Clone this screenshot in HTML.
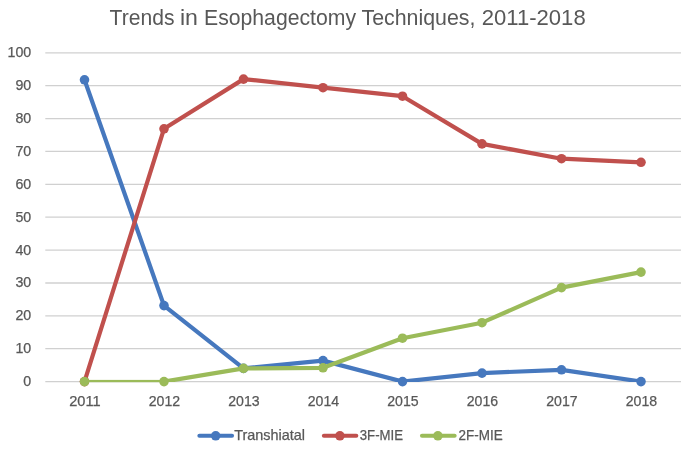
<!DOCTYPE html>
<html><head><meta charset="utf-8"><title>Trends in Esophagectomy Techniques</title>
<style>
html,body{margin:0;padding:0;background:#fff;}
body{width:685px;height:451px;overflow:hidden;font-family:"Liberation Sans",sans-serif;}
svg{display:block;opacity:0.999;will-change:transform;}
text{font-family:"Liberation Sans",sans-serif;fill:#585858;}
.sm{stroke:#585858;stroke-width:0.25px;}
</style></head><body>
<svg width="685" height="451" viewBox="0 0 685 451">
<rect width="685" height="451" fill="#ffffff"/>
<defs><clipPath id="plot"><rect x="0" y="0" width="685" height="382.0"/></clipPath></defs>
<line x1="45.3" x2="681.0" y1="381.6" y2="381.6" stroke="#D0D0D0" stroke-width="1.3"/>
<line x1="45.3" x2="681.0" y1="348.7" y2="348.7" stroke="#D0D0D0" stroke-width="1.3"/>
<line x1="45.3" x2="681.0" y1="315.8" y2="315.8" stroke="#D0D0D0" stroke-width="1.3"/>
<line x1="45.3" x2="681.0" y1="283.0" y2="283.0" stroke="#D0D0D0" stroke-width="1.3"/>
<line x1="45.3" x2="681.0" y1="250.1" y2="250.1" stroke="#D0D0D0" stroke-width="1.3"/>
<line x1="45.3" x2="681.0" y1="217.2" y2="217.2" stroke="#D0D0D0" stroke-width="1.3"/>
<line x1="45.3" x2="681.0" y1="184.3" y2="184.3" stroke="#D0D0D0" stroke-width="1.3"/>
<line x1="45.3" x2="681.0" y1="151.4" y2="151.4" stroke="#D0D0D0" stroke-width="1.3"/>
<line x1="45.3" x2="681.0" y1="118.6" y2="118.6" stroke="#D0D0D0" stroke-width="1.3"/>
<line x1="45.3" x2="681.0" y1="85.7" y2="85.7" stroke="#D0D0D0" stroke-width="1.3"/>
<line x1="45.3" x2="681.0" y1="52.8" y2="52.8" stroke="#D0D0D0" stroke-width="1.3"/>
<text class="sm" x="23.3" y="386.0" font-size="14.3" textLength="7.9" lengthAdjust="spacingAndGlyphs">0</text>
<text class="sm" x="15.4" y="353.1" font-size="14.3" textLength="15.8" lengthAdjust="spacingAndGlyphs">10</text>
<text class="sm" x="15.4" y="320.2" font-size="14.3" textLength="15.8" lengthAdjust="spacingAndGlyphs">20</text>
<text class="sm" x="15.4" y="287.4" font-size="14.3" textLength="15.8" lengthAdjust="spacingAndGlyphs">30</text>
<text class="sm" x="15.4" y="254.5" font-size="14.3" textLength="15.8" lengthAdjust="spacingAndGlyphs">40</text>
<text class="sm" x="15.4" y="221.6" font-size="14.3" textLength="15.8" lengthAdjust="spacingAndGlyphs">50</text>
<text class="sm" x="15.4" y="188.7" font-size="14.3" textLength="15.8" lengthAdjust="spacingAndGlyphs">60</text>
<text class="sm" x="15.4" y="155.8" font-size="14.3" textLength="15.8" lengthAdjust="spacingAndGlyphs">70</text>
<text class="sm" x="15.4" y="123.0" font-size="14.3" textLength="15.8" lengthAdjust="spacingAndGlyphs">80</text>
<text class="sm" x="15.4" y="90.1" font-size="14.3" textLength="15.8" lengthAdjust="spacingAndGlyphs">90</text>
<text class="sm" x="7.5" y="57.2" font-size="14.3" textLength="23.7" lengthAdjust="spacingAndGlyphs">100</text>
<text class="sm" x="69.2" y="405.5" font-size="14.3" textLength="31.4" lengthAdjust="spacingAndGlyphs">2011</text>
<text class="sm" x="148.7" y="405.5" font-size="14.3" textLength="31.4" lengthAdjust="spacingAndGlyphs">2012</text>
<text class="sm" x="228.2" y="405.5" font-size="14.3" textLength="31.4" lengthAdjust="spacingAndGlyphs">2013</text>
<text class="sm" x="307.7" y="405.5" font-size="14.3" textLength="31.4" lengthAdjust="spacingAndGlyphs">2014</text>
<text class="sm" x="387.2" y="405.5" font-size="14.3" textLength="31.4" lengthAdjust="spacingAndGlyphs">2015</text>
<text class="sm" x="466.7" y="405.5" font-size="14.3" textLength="31.4" lengthAdjust="spacingAndGlyphs">2016</text>
<text class="sm" x="546.2" y="405.5" font-size="14.3" textLength="31.4" lengthAdjust="spacingAndGlyphs">2017</text>
<text class="sm" x="625.7" y="405.5" font-size="14.3" textLength="31.4" lengthAdjust="spacingAndGlyphs">2018</text>
<text x="109.6" y="24.7" font-size="22" textLength="64.9" lengthAdjust="spacingAndGlyphs">Trends</text>
<text x="179.9" y="24.7" font-size="22" textLength="18.0" lengthAdjust="spacingAndGlyphs">in</text>
<text x="204" y="24.7" font-size="22" textLength="152" lengthAdjust="spacingAndGlyphs">Esophagectomy</text>
<text x="361.5" y="24.7" font-size="22" textLength="113.9" lengthAdjust="spacingAndGlyphs">Techniques,</text>
<text x="481.7" y="24.7" font-size="22" textLength="104" lengthAdjust="spacingAndGlyphs">2011-2018</text>
<polyline clip-path="url(#plot)" points="84.5,79.8 164.0,305.6 243.5,368.4 323.0,360.6 402.5,381.6 482.0,373.1 561.5,369.8 641.0,381.6" fill="none" stroke="#4678BE" stroke-width="4.2" stroke-linejoin="round" stroke-linecap="round"/>
<circle cx="84.5" cy="79.8" r="4.8" fill="#4678BE"/>
<circle cx="164.0" cy="305.6" r="4.8" fill="#4678BE"/>
<circle cx="243.5" cy="368.4" r="4.8" fill="#4678BE"/>
<circle cx="323.0" cy="360.6" r="4.8" fill="#4678BE"/>
<circle cx="402.5" cy="381.6" r="4.8" fill="#4678BE"/>
<circle cx="482.0" cy="373.1" r="4.8" fill="#4678BE"/>
<circle cx="561.5" cy="369.8" r="4.8" fill="#4678BE"/>
<circle cx="641.0" cy="381.6" r="4.8" fill="#4678BE"/>
<polyline clip-path="url(#plot)" points="84.5,381.6 164.0,128.8 243.5,79.1 323.0,87.7 402.5,96.2 482.0,143.9 561.5,158.7 641.0,162.3" fill="none" stroke="#C0504D" stroke-width="4.2" stroke-linejoin="round" stroke-linecap="round"/>
<circle cx="84.5" cy="381.6" r="4.8" fill="#C0504D"/>
<circle cx="164.0" cy="128.8" r="4.8" fill="#C0504D"/>
<circle cx="243.5" cy="79.1" r="4.8" fill="#C0504D"/>
<circle cx="323.0" cy="87.7" r="4.8" fill="#C0504D"/>
<circle cx="402.5" cy="96.2" r="4.8" fill="#C0504D"/>
<circle cx="482.0" cy="143.9" r="4.8" fill="#C0504D"/>
<circle cx="561.5" cy="158.7" r="4.8" fill="#C0504D"/>
<circle cx="641.0" cy="162.3" r="4.8" fill="#C0504D"/>
<rect x="84.5" y="379.9" width="79.5" height="2.3" fill="#9BBB59"/>
<polyline clip-path="url(#plot)" points="164.0,381.6 243.5,368.4 323.0,367.8 402.5,338.2 482.0,322.7 561.5,287.6 641.0,272.1" fill="none" stroke="#9BBB59" stroke-width="4.2" stroke-linejoin="round" stroke-linecap="round"/>
<circle cx="84.5" cy="381.6" r="4.8" fill="#9BBB59"/>
<circle cx="164.0" cy="381.6" r="4.8" fill="#9BBB59"/>
<circle cx="243.5" cy="368.4" r="4.8" fill="#9BBB59"/>
<circle cx="323.0" cy="367.8" r="4.8" fill="#9BBB59"/>
<circle cx="402.5" cy="338.2" r="4.8" fill="#9BBB59"/>
<circle cx="482.0" cy="322.7" r="4.8" fill="#9BBB59"/>
<circle cx="561.5" cy="287.6" r="4.8" fill="#9BBB59"/>
<circle cx="641.0" cy="272.1" r="4.8" fill="#9BBB59"/>
<line x1="199.4" x2="232.0" y1="435.8" y2="435.8" stroke="#4678BE" stroke-width="4.1" stroke-linecap="round"/>
<circle cx="215.7" cy="435.8" r="4.8" fill="#4678BE"/>
<text class="sm" x="234.2" y="440.3" font-size="14.3" textLength="70.9" lengthAdjust="spacingAndGlyphs">Transhiatal</text>
<line x1="323.9" x2="356.3" y1="435.8" y2="435.8" stroke="#C0504D" stroke-width="4.1" stroke-linecap="round"/>
<circle cx="339.9" cy="435.8" r="4.8" fill="#C0504D"/>
<text class="sm" x="359.8" y="440.3" font-size="14.3" textLength="43.2" lengthAdjust="spacingAndGlyphs">3F-MIE</text>
<line x1="422.0" x2="454.6" y1="435.8" y2="435.8" stroke="#9BBB59" stroke-width="4.1" stroke-linecap="round"/>
<circle cx="437.9" cy="435.8" r="4.8" fill="#9BBB59"/>
<text class="sm" x="458.6" y="440.3" font-size="14.3" textLength="44.1" lengthAdjust="spacingAndGlyphs">2F-MIE</text>
</svg>
</body></html>
